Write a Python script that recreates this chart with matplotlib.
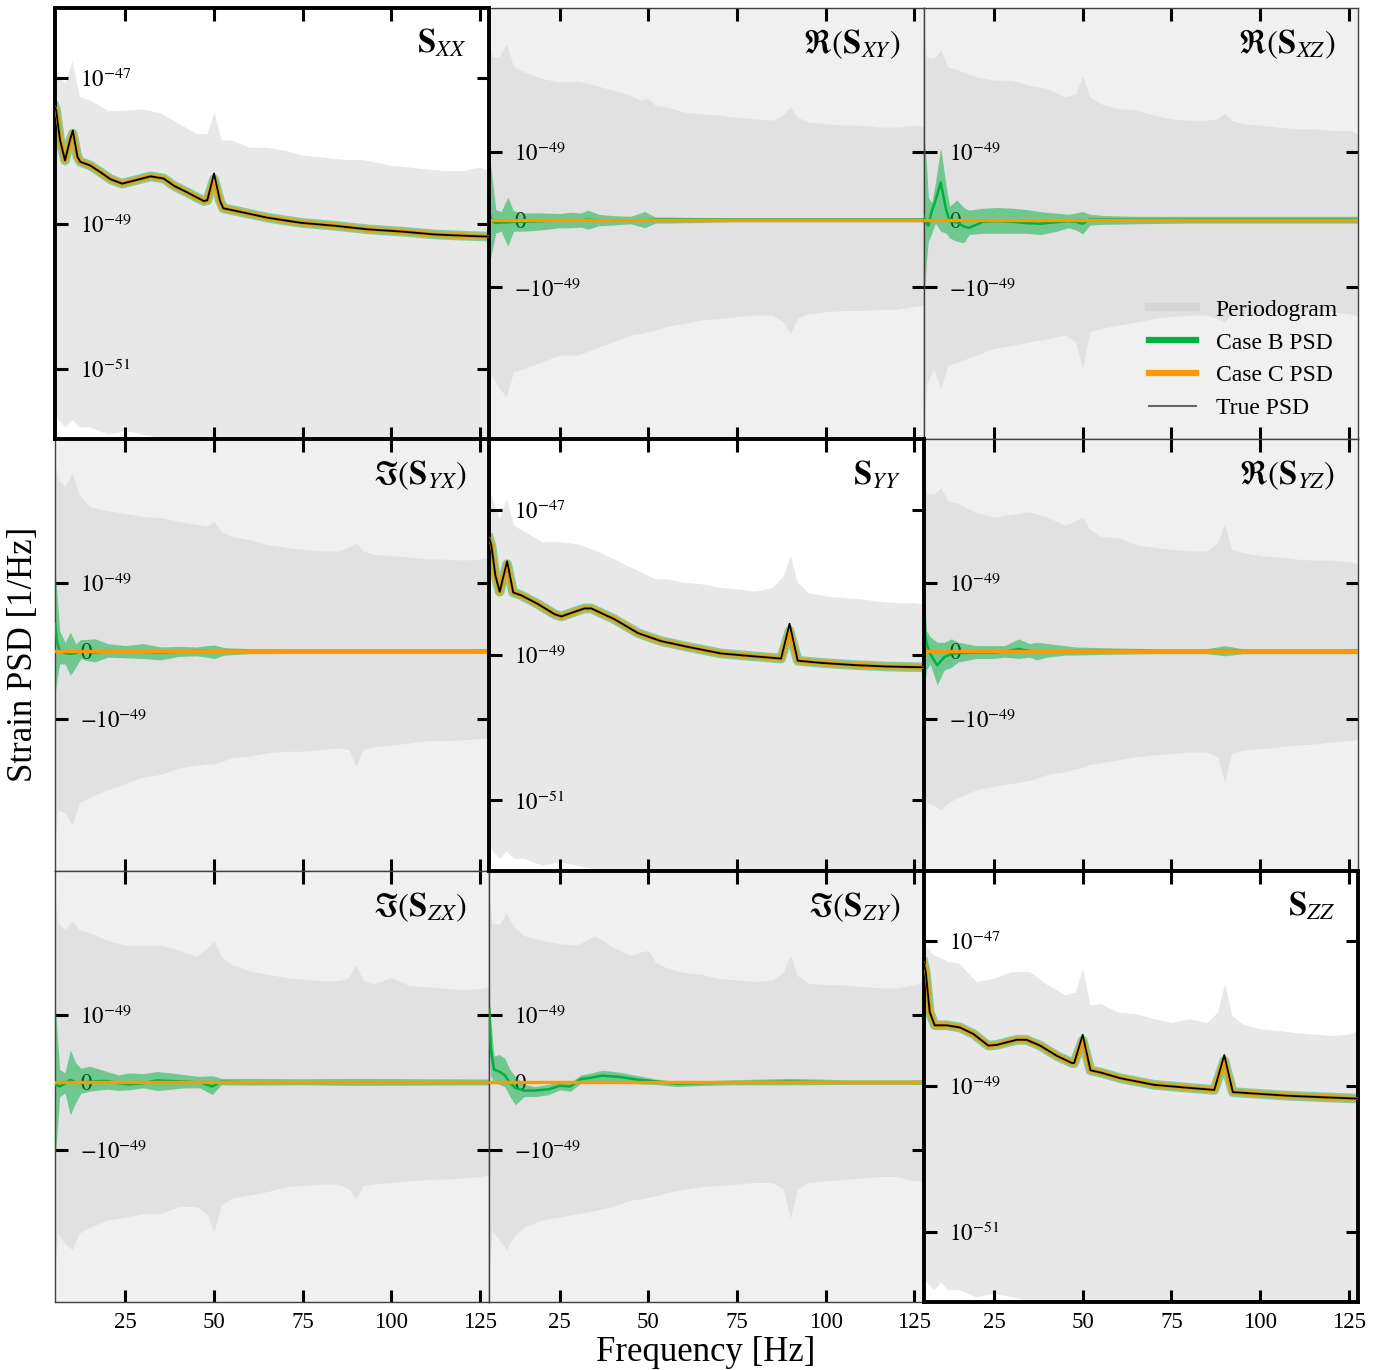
"""
3x3 cross-spectral PSD matrix: periodogram vs Case B / Case C estimates vs true PSD.
Diagonal = auto-spectra (log y), off-diagonal = Re/Im of cross-spectra (symlog y).
"""
import numpy as np
import matplotlib
matplotlib.use('Agg')
import matplotlib.pyplot as plt
from matplotlib.lines import Line2D
from matplotlib.ticker import NullLocator

plt.rcParams['font.family'] = 'serif'
plt.rcParams['font.serif'] = ['Liberation Serif', 'DejaVu Serif']
plt.rcParams['mathtext.fontset'] = 'stix'

# ── periodogram envelopes ────────────────────────────────────────────────────
PG_FREQ = [5.2, 6, 8, 10, 12, 15, 20, 25, 30, 35, 40, 45, 48, 50, 52, 55, 60, 65,
           70, 75, 80, 85, 88, 90, 92, 95, 100, 105, 110, 115, 120, 125, 127.6]

# diagonal: log10 of PSD
PG_UP_XX = [-46.80, -46.95, -47.07, -46.75, -47.25, -47.30, -47.44, -47.44, -47.42, -47.48,
            -47.62, -47.76, -47.76, -47.46, -47.85, -47.85, -47.95, -47.95, -47.99, -48.06,
            -48.08, -48.11, -48.12, -48.12, -48.12, -48.15, -48.20, -48.22, -48.25, -48.27,
            -48.27, -48.22, -48.27]
PG_UP_YY = [-46.75, -46.84, -47.12, -46.84, -47.21, -47.30, -47.44, -47.44, -47.47, -47.56,
            -47.67, -47.79, -47.86, -47.91, -47.95, -47.95, -48.00, -48.02, -48.07, -48.09,
            -48.12, -48.07, -47.91, -47.63, -48.00, -48.14, -48.19, -48.21, -48.23, -48.26,
            -48.28, -48.28, -48.30]
PG_UP_ZZ = [-46.86, -47.09, -47.19, -47.23, -47.28, -47.30, -47.56, -47.51, -47.42, -47.42,
            -47.60, -47.74, -47.70, -47.37, -47.88, -47.86, -47.98, -48.00, -48.07, -48.12,
            -48.07, -48.12, -47.98, -47.58, -48.02, -48.14, -48.21, -48.23, -48.26, -48.28,
            -48.30, -48.28, -48.23]
PG_LO_DIAG = [-51.6, -51.7, -51.8, -51.7, -51.8, -51.8, -51.9, -51.85, -51.9, -51.95,
              -52.0, -52.0, -52.05, -52.05, -52.1, -52.1, -52.1, -52.1, -52.1, -52.1,
              -52.1, -52.1, -52.1, -52.1, -52.1, -52.1, -52.1, -52.1, -52.1, -52.1,
              -52.1, -52.1, -52.1]

# off-diagonal: units of 1e-49
PG_UP_XY = [53, 36.5, 36, 60, 25, 20.6, 16, 14, 14.5, 12.4, 10.3, 8.5, 7.0, 7.5, 5.8, 5.5, 4.5,
            4.2, 4.0, 3.7, 3.5, 3.3, 4.0, 5.5, 3.7, 3.1, 2.9, 2.75, 2.75, 2.55, 2.55, 2.75, 2.55]
PG_LO_XY = [-36, -28, -46, -62, -24, -21.5, -16.6, -12.9, -12.9, -10, -7.8, -6.0, -5.7, -5.3,
            -5.0, -4.4, -3.9, -3.4, -3.25, -3.0, -2.85, -2.85, -3.7, -5.7, -3.25, -2.7, -2.5,
            -2.4, -2.4, -2.3, -2.3, -2.06, -1.95]
PG_UP_XZ = [88, 36, 34, 47, 25, 22, 17, 15, 15, 12.4, 11, 8.0, 9, 18, 8.0, 6.2, 5.1, 4.9, 4.0,
            3.5, 3.3, 3.3, 3.5, 4.3, 3.3, 2.9, 2.75, 2.55, 2.4, 2.4, 2.25, 2.25, 2.0]
PG_LO_XZ = [-200, -40, -21.5, -46, -18.9, -16.6, -12.9, -10, -9.0, -7.8, -7.0, -6.0, -7.8, -21.5,
            -5.3, -4.7, -4.2, -3.7, -3.25, -3.0, -2.85, -2.85, -3.25, -3.7, -2.85, -2.7, -2.7,
            -2.5, -2.5, -2.5, -2.5, -2.7, -3.0]
PG_UP_YX = [100, 50, 39, 65, 28, 18, 15.5, 14, 12.5, 12, 10.3, 9.2, 8.7, 10.3, 7.1, 5.9, 5.2,
            4.3, 3.9, 3.6, 3.4, 3.4, 3.9, 4.7, 3.4, 3.0, 2.85, 2.7, 2.5, 2.5, 2.4, 2.5, 2.7]
PG_LO_YX = [-120, -31, -35, -55, -24, -19.5, -14.6, -11.5, -9.0, -8.2, -6.4, -5.8, -5.5, -5.5,
            -5.0, -4.4, -4.1, -3.6, -3.4, -3.4, -3.2, -3.0, -3.2, -6.0, -3.2, -2.85, -2.7, -2.5,
            -2.3, -2.3, -2.2, -2.1, -2.0]
PG_UP_YZ = [89, 29, 29, 37, 22.6, 20.4, 14.5, 12.2, 13.5, 15, 12.2, 8.9, 10.7, 12.2, 7.7, 5.9,
            5.6, 4.3, 3.9, 3.6, 3.4, 3.4, 4.6, 9.4, 3.6, 3.2, 2.85, 2.7, 2.5, 2.4, 2.4, 2.25, 2.1]
PG_LO_YZ = [-120, -24, -26, -31, -24, -19.5, -14.6, -12.7, -11.5, -10.3, -8.2, -7.4, -6.6, -6.3,
            -5.6, -5.3, -4.7, -4.2, -3.9, -3.7, -3.5, -3.5, -4.2, -10.9, -3.7, -3.3, -3.1, -2.9,
            -2.7, -2.6, -2.4, -2.3, -2.2]
PG_UP_ZX = [88, 32, 25, 34, 25, 22, 16.5, 13.8, 13.8, 13.8, 11.5, 9.0, 12.3, 16.5, 9.0, 6.7, 5.2,
            4.6, 4.1, 3.8, 3.6, 3.6, 4.1, 6.7, 3.6, 3.2, 4.1, 3.0, 2.85, 2.7, 2.55, 2.7, 2.85]
PG_LO_ZX = [-90, -23, -34, -43, -23, -18.3, -14, -12.5, -11, -11, -8.4, -8.4, -11, -22, -7.9,
            -6.1, -5.4, -4.8, -4.0, -3.8, -3.6, -3.6, -4.3, -6.2, -3.8, -3.6, -3.4, -3.2, -3.0,
            -3.0, -2.85, -2.7, -2.55]
PG_UP_ZY = [88, 32, 30, 47, 28, 19.8, 16.5, 14.5, 13.8, 19.8, 12.8, 9.4, 10.7, 11.3, 7.3, 5.9,
            4.9, 4.6, 3.9, 3.7, 3.5, 3.7, 4.9, 9.4, 4.4, 3.3, 3.1, 3.1, 2.9, 2.75, 2.75, 3.1, 3.5]
PG_LO_ZY = [-90, -20.6, -30, -43, -26, -18.3, -14, -12.5, -11, -9.8, -8.4, -6.6, -6.3, -5.9, -5.6,
            -5.0, -4.4, -4.0, -3.8, -3.6, -3.4, -3.4, -4.3, -13.3, -4.3, -3.4, -3.2, -3.0, -2.85,
            -2.7, -2.7, -3.2, -3.2]

# ── diagonal PSDs (log10): true and posterior median (Case B ≈ Case C) ────────
XX_FREQ = [5.2, 5.5, 6.6, 8.0, 9.4, 10.2, 11.5, 12.3, 15.1, 17.9, 20.8, 24.1, 27.4, 32.1, 35.8,
           38.7, 42.4, 47.1, 48.1, 50.0, 51.7, 52.6, 55.6, 65.1, 74.5, 83.9, 93.4, 102.8, 112.2,
           121.6, 127.6]
XX_TRUE = [-47.40, -47.44, -47.85, -48.13, -47.85, -47.72, -48.08, -48.15, -48.20, -48.29,
           -48.39, -48.45, -48.41, -48.35, -48.38, -48.48, -48.57, -48.69, -48.68, -48.31,
           -48.69, -48.79, -48.82, -48.92, -48.99, -49.03, -49.08, -49.11, -49.15, -49.17, -49.18]
XX_EST = [-47.40, -47.44, -47.85, -48.13, -47.87, -47.76, -48.08, -48.15, -48.20, -48.29,
          -48.39, -48.45, -48.41, -48.35, -48.38, -48.48, -48.57, -48.69, -48.68, -48.39,
          -48.69, -48.79, -48.82, -48.92, -48.99, -49.03, -49.08, -49.11, -49.15, -49.17, -49.18]

YY_FREQ = [5.2, 5.75, 6.9, 8.1, 10.2, 11.9, 14.2, 18.9, 23.6, 25.5, 29.0, 32.0, 33.9, 40.5, 47.1,
           53.6, 61.2, 70.5, 79.9, 87.4, 89.8, 92.1, 98.7, 108.1, 117.5, 127.6]
YY_TRUE = [-47.40, -47.49, -47.91, -48.13, -47.71, -48.14, -48.18, -48.30, -48.44, -48.47,
           -48.41, -48.36, -48.36, -48.51, -48.70, -48.81, -48.89, -48.98, -49.02, -49.05,
           -48.57, -49.08, -49.11, -49.14, -49.16, -49.17]
YY_EST = [-47.40, -47.49, -47.91, -48.13, -47.75, -48.14, -48.18, -48.30, -48.44, -48.47,
          -48.41, -48.36, -48.36, -48.51, -48.70, -48.81, -48.89, -48.98, -49.02, -49.05,
          -48.67, -49.08, -49.11, -49.14, -49.16, -49.17]

ZZ_FREQ = [5.2, 5.75, 6.9, 8.3, 11.6, 15.4, 19.2, 23.4, 25.8, 31.4, 34.2, 38.0, 42.7, 47.0, 47.6,
           50.0, 52.2, 55.0, 60.7, 70.1, 79.5, 87.1, 89.9, 92.3, 98.4, 107.8, 117.3, 127.6]
ZZ_TRUE = [-47.30, -47.42, -47.98, -48.16, -48.16, -48.19, -48.28, -48.44, -48.43, -48.36,
           -48.36, -48.44, -48.58, -48.68, -48.68, -48.29, -48.78, -48.81, -48.89, -48.98,
           -49.02, -49.05, -48.57, -49.08, -49.10, -49.13, -49.15, -49.17]
ZZ_EST = [-47.30, -47.42, -47.98, -48.16, -48.16, -48.19, -48.28, -48.44, -48.43, -48.36,
          -48.36, -48.44, -48.58, -48.68, -48.68, -48.37, -48.78, -48.81, -48.89, -48.98,
          -49.02, -49.05, -48.65, -49.08, -49.10, -49.13, -49.15, -49.17]

# ── off-diagonal Case B (median, 90% band), units of 1e-49 ────────────────────
B_FREQ_XY = [5.2, 6, 7, 8.5, 10.4, 12, 15, 20, 25, 28, 31, 33, 36, 40, 45, 49, 52, 56, 65, 75,
             90, 100, 110, 127.6]
B_MED_XY = [0.10, -0.02, -0.05, -0.04, -0.04, -0.03, -0.03, -0.02, -0.01, -0.01, -0.01, 0.0,
            -0.01, -0.01, -0.01, -0.01, 0.0, 0.0, 0.0, 0.0, 0.0, 0.0, 0.0, 0.0]
B_LO_XY = [-0.66, -0.45, -0.20, -0.17, -0.39, -0.17, -0.17, -0.15, -0.12, -0.12, -0.11, -0.14,
           -0.09, -0.08, -0.06, -0.12, -0.05, -0.05, -0.04, -0.03, -0.03, -0.03, -0.03, -0.03]
B_HI_XY = [1.0, 0.6, 0.15, 0.12, 0.33, 0.13, 0.10, 0.10, 0.09, 0.11, 0.10, 0.14, 0.08, 0.06, 0.05,
           0.12, 0.04, 0.04, 0.03, 0.03, 0.03, 0.03, 0.03, 0.03]

B_FREQ_XZ = [5.2, 6.0, 6.5, 7.5, 8.5, 10.0, 11.5, 12.5, 14.5, 16.5, 18.0, 22, 26, 30, 34, 38, 42,
             46, 48, 50, 52, 56, 65, 80, 100, 127.6]
B_MED_XZ = [0.05, -0.05, -0.09, 0.13, 0.28, 0.55, 0.15, -0.02, -0.04, -0.10, -0.12, -0.03, -0.02,
            -0.03, -0.05, -0.06, -0.04, -0.02, -0.03, -0.06, 0.0, 0.0, 0.0, 0.0, 0.0, 0.0]
B_LO_XZ = [-1.7, -0.6, -0.32, -0.20, -0.05, -0.17, -0.20, -0.27, -0.32, -0.34, -0.22, -0.20, -0.20,
           -0.20, -0.20, -0.22, -0.18, -0.12, -0.15, -0.21, -0.08, -0.07, -0.06, -0.05, -0.05, -0.05]
B_HI_XZ = [2.2, 0.8, 0.33, 0.25, 0.55, 1.19, 0.50, 0.20, 0.29, 0.18, 0.14, 0.17, 0.18, 0.17, 0.15,
           0.12, 0.10, 0.08, 0.10, 0.12, 0.08, 0.06, 0.05, 0.05, 0.05, 0.05]

B_FREQ_YX = [5.2, 5.8, 6.5, 8, 9.5, 11, 12.5, 14, 16.5, 20, 25, 30, 35, 40, 45, 48, 50, 53, 60, 75,
             90, 110, 127.6]
B_MED_YX = [0.40, 0.12, 0.01, -0.03, -0.04, -0.03, 0.0, -0.01, -0.02, 0.0, -0.01, -0.01, -0.02,
            -0.01, 0.0, 0.0, -0.01, 0.0, 0.0, 0.0, 0.0, 0.0, 0.0]
B_LO_YX = [-0.63, -0.4, -0.19, -0.19, -0.36, -0.24, -0.11, -0.14, -0.16, -0.09, -0.10, -0.11,
           -0.13, -0.08, -0.07, -0.09, -0.11, -0.06, -0.04, -0.035, -0.035, -0.035, -0.035]
B_HI_YX = [1.6, 0.8, 0.30, 0.13, 0.28, 0.11, 0.17, 0.17, 0.18, 0.11, 0.08, 0.11, 0.06, 0.07, 0.06,
           0.08, 0.09, 0.05, 0.035, 0.035, 0.035, 0.035, 0.035]

B_FREQ_YZ = [5.2, 6, 7, 9, 11, 13, 15, 20, 25, 28, 32, 35, 37, 40, 45, 48, 55, 70, 85, 90, 95,
             110, 127.6]
B_MED_YZ = [0.40, 0.11, -0.04, -0.21, -0.09, -0.04, -0.03, -0.02, -0.02, -0.01, 0.03, 0.0, -0.01,
            0.0, -0.01, 0.0, 0.0, 0.0, 0.0, 0.0, 0.0, 0.0, 0.0]
B_LO_YZ = [-0.58, -0.28, -0.19, -0.50, -0.28, -0.24, -0.16, -0.11, -0.11, -0.09, -0.11, -0.09,
           -0.13, -0.09, -0.06, -0.06, -0.05, -0.04, -0.04, -0.07, -0.04, -0.04, -0.04]
B_HI_YZ = [1.0, 0.30, 0.21, 0.13, 0.13, 0.18, 0.13, 0.08, 0.08, 0.08, 0.18, 0.11, 0.13, 0.11, 0.08,
           0.06, 0.05, 0.035, 0.035, 0.08, 0.035, 0.035, 0.035]

B_FREQ_ZX = [5.2, 6.5, 8, 9.5, 11, 12.5, 15, 18, 20, 23, 26, 30, 34, 38, 42, 46, 49.5, 52, 60, 75,
             90, 127.6]
B_MED_ZX = [-0.03, -0.06, -0.02, 0.04, 0.0, -0.01, 0.01, 0.02, 0.02, -0.01, -0.03, -0.01, 0.03,
            0.02, 0.01, 0.0, -0.06, 0.01, 0.0, 0.0, 0.0, 0.0]
B_LO_ZX = [-1.46, -0.21, -0.16, -0.48, -0.30, -0.16, -0.13, -0.11, -0.10, -0.12, -0.11, -0.08,
           -0.12, -0.10, -0.08, -0.08, -0.18, -0.035, -0.04, -0.035, -0.045, -0.035]
B_HI_ZX = [1.55, 0.19, 0.14, 0.48, 0.29, 0.21, 0.24, 0.19, 0.16, 0.11, 0.14, 0.13, 0.16, 0.14, 0.11,
           0.09, 0.10, 0.06, 0.06, 0.055, 0.06, 0.05]

B_FREQ_ZY = [5.2, 5.6, 6.5, 8, 9.5, 11, 12.5, 15, 18, 22, 25, 28, 31, 34, 37, 42, 47, 52, 58, 65,
             75, 90, 105, 127.6]
B_MED_ZY = [1.2, 0.5, 0.19, 0.16, 0.11, -0.01, -0.08, -0.12, -0.12, -0.10, -0.05, -0.06, 0.05,
            0.07, 0.10, 0.08, 0.04, 0.015, -0.02, -0.01, 0.0, 0.01, 0.0, 0.0]
B_LO_ZY = [0.5, 0.1, -0.01, -0.03, -0.06, -0.21, -0.33, -0.21, -0.21, -0.18, -0.11, -0.13, -0.01,
           0.01, 0.03, 0.01, -0.02, -0.03, -0.06, -0.045, -0.035, -0.035, -0.03, -0.03]
B_HI_ZY = [1.8, 0.9, 0.39, 0.41, 0.36, 0.19, 0.09, -0.03, -0.06, -0.03, 0.01, 0.0, 0.11, 0.14, 0.18,
           0.15, 0.10, 0.05, 0.015, 0.025, 0.04, 0.06, 0.04, 0.04]

# Case C (diagonal-only model) and true cross-spectra are zero off the diagonal
ZERO_FREQ = [5.2, 127.6]
CASE_C_OFF = [0.0, 0.0]
TRUE_OFF = [0.0, 0.0]

UNIT = 1e-49
GREEN = '#00b140'
ORANGE = '#ff9900'
PG_COLOR = 'lightgray'
FS_TICK = 16.5
FS_TITLE = 23.5

DIAG = {
    (0, 0): (r'$\mathbf{S}_{XX}$', PG_UP_XX, XX_FREQ, XX_TRUE, XX_EST),
    (1, 1): (r'$\mathbf{S}_{YY}$', PG_UP_YY, YY_FREQ, YY_TRUE, YY_EST),
    (2, 2): (r'$\mathbf{S}_{ZZ}$', PG_UP_ZZ, ZZ_FREQ, ZZ_TRUE, ZZ_EST),
}
OFF = {
    (0, 1): (r'$\Re(\mathbf{S}_{XY})$', PG_UP_XY, PG_LO_XY, B_FREQ_XY, B_MED_XY, B_LO_XY, B_HI_XY),
    (0, 2): (r'$\Re(\mathbf{S}_{XZ})$', PG_UP_XZ, PG_LO_XZ, B_FREQ_XZ, B_MED_XZ, B_LO_XZ, B_HI_XZ),
    (1, 0): (r'$\Im(\mathbf{S}_{YX})$', PG_UP_YX, PG_LO_YX, B_FREQ_YX, B_MED_YX, B_LO_YX, B_HI_YX),
    (1, 2): (r'$\Re(\mathbf{S}_{YZ})$', PG_UP_YZ, PG_LO_YZ, B_FREQ_YZ, B_MED_YZ, B_LO_YZ, B_HI_YZ),
    (2, 0): (r'$\Im(\mathbf{S}_{ZX})$', PG_UP_ZX, PG_LO_ZX, B_FREQ_ZX, B_MED_ZX, B_LO_ZX, B_HI_ZX),
    (2, 1): (r'$\Im(\mathbf{S}_{ZY})$', PG_UP_ZY, PG_LO_ZY, B_FREQ_ZY, B_MED_ZY, B_LO_ZY, B_HI_ZY),
}

fig, axes = plt.subplots(3, 3, figsize=(13.94, 13.70), dpi=100)
fig.subplots_adjust(left=0.0395, right=0.9742, top=0.9942, bottom=0.0496, wspace=0, hspace=0)

pg_f = np.array(PG_FREQ)

for (r, c), (title, pg_up, freq, true, est) in DIAG.items():
    ax = axes[r][c]
    ax.set_zorder(3)
    ax.fill_between(pg_f, 10 ** np.array(PG_LO_DIAG), 10 ** np.array(pg_up),
                    color=PG_COLOR, alpha=0.5, lw=0, zorder=1)
    f = np.array(freq)
    est_v = 10 ** np.array(est)
    # credible bands drawn as wide translucent strokes
    ax.plot(f, est_v, color=GREEN, lw=7, alpha=0.45, zorder=2)
    ax.plot(f, est_v, color=ORANGE, lw=5, alpha=0.65, zorder=2)
    ax.plot(f, est_v, color=GREEN, lw=1.8, zorder=3)
    ax.plot(f, est_v, color=ORANGE, lw=1.8, zorder=3)
    ax.plot(f, 10 ** np.array(true), color='k', lw=1.3, zorder=4)
    ax.set_yscale('log')
    ax.set_ylim(1.07e-52, 9.3e-47)
    ax.set_yticks([1e-51, 1e-49, 1e-47],
                  labels=[r'$10^{-51}$', r'$10^{-49}$', r'$10^{-47}$'])
    for sp in ax.spines.values():
        sp.set_linewidth(2.8)
        sp.set_color('k')
    ax.text(0.947, 0.955, title, transform=ax.transAxes, ha='right', va='top', fontsize=FS_TITLE)

for (r, c), (title, pg_up, pg_lo, bf, bmed, blo, bhi) in OFF.items():
    ax = axes[r][c]
    ax.set_facecolor('#f0f0f0')
    ax.fill_between(pg_f, np.array(pg_lo) * UNIT, np.array(pg_up) * UNIT,
                    color=PG_COLOR, alpha=0.5, lw=0, zorder=1)
    f = np.array(bf)
    ax.fill_between(f, np.array(blo) * UNIT, np.array(bhi) * UNIT,
                    color=GREEN, alpha=0.5, lw=0, zorder=2)
    ax.plot(f, np.array(bmed) * UNIT, color=GREEN, lw=1.8, zorder=3)
    ax.plot(ZERO_FREQ, np.array(TRUE_OFF) * UNIT, color='k', lw=1.3, zorder=3)
    ax.plot(ZERO_FREQ, np.array(CASE_C_OFF) * UNIT, color=ORANGE, lw=2.4, zorder=4)
    ax.set_yscale('symlog', linthresh=1e-49)
    ax.set_ylim(-3.1e-47, 2.3e-47)
    ax.set_yticks([-1e-49, 0, 1e-49],
                  labels=[r'$-10^{-49}$', r'$0$', r'$10^{-49}$'])
    for sp in ax.spines.values():
        sp.set_linewidth(1.0)
        sp.set_color('0.25')
    ax.text(0.947, 0.955, title, transform=ax.transAxes, ha='right', va='top', fontsize=FS_TITLE)

for r in range(3):
    for c in range(3):
        ax = axes[r][c]
        ax.set_xlim(5.2, 127.6)
        ax.set_xticks([25, 50, 75, 100, 125])
        ax.yaxis.set_minor_locator(NullLocator())
        ax.xaxis.set_minor_locator(NullLocator())
        ax.tick_params(which='both', direction='in', top=True, right=True,
                       length=9, width=2.2, labelsize=FS_TICK, color='k')
        ax.tick_params(axis='y', pad=-18)
        ax.tick_params(axis='x', pad=7, labelbottom=(r == 2))
        for t in ax.yaxis.get_major_ticks():
            t.label1.set_horizontalalignment('left')

handles = [
    Line2D([], [], color=PG_COLOR, lw=6, alpha=0.8, label='Periodogram'),
    Line2D([], [], color=GREEN, lw=4.5, label='Case B PSD'),
    Line2D([], [], color=ORANGE, lw=4.5, label='Case C PSD'),
    Line2D([], [], color='0.4', lw=1.5, label='True PSD'),
]
leg = axes[0][2].legend(handles=handles, loc='lower right', frameon=False, fontsize=17,
                        handlelength=2.0, handletextpad=0.85, labelspacing=0.48,
                        borderaxespad=0.45)
leg.set_zorder(10)

fig.text(0.0165, 0.522, 'Strain PSD [1/Hz]', rotation=90, ha='center', va='center', fontsize=25)
fig.text(0.5065, 0.0130, 'Frequency [Hz]', ha='center', va='center', fontsize=25)

fig.savefig('out.png', dpi=100)
plt.close(fig)
